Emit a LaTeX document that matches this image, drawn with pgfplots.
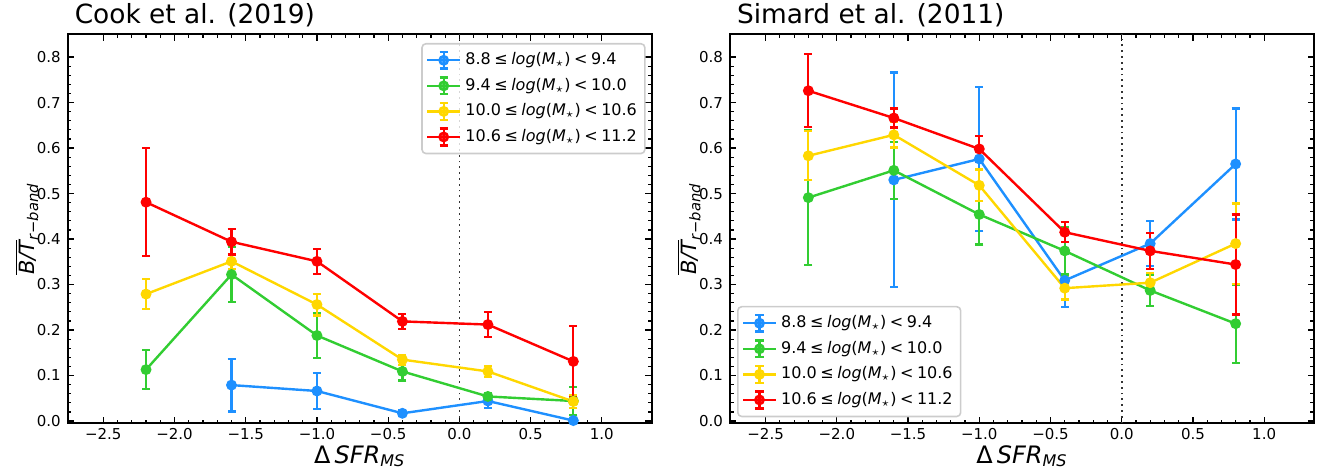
\documentclass[border=0pt]{standalone}
\usepackage{fontspec}
\setmainfont{DejaVu Sans}
\usepackage{pgfplots}
\usepackage{pgfplotstable}
\pgfplotsset{compat=1.18}
\definecolor{cblue}{HTML}{1E90FF}
\definecolor{cgreen}{HTML}{32CD32}
\definecolor{cyellow}{HTML}{FFD700}
\definecolor{cred}{HTML}{FF0000}
\newcommand\rs{\hspace{0.22em}}

% Cook et al. (2019)
\pgfplotstableread{
x y e
-1.6 0.079 0.058
-1.0 0.066 0.040
-0.4 0.017 0.006
0.2 0.044 0.015
0.8 0.001 0.004
}\cookblue
\pgfplotstableread{
x y e
-2.2 0.113 0.043
-1.6 0.322 0.060
-1.0 0.188 0.050
-0.4 0.109 0.020
0.2 0.054 0.007
0.8 0.044 0.030
}\cookgreen
\pgfplotstableread{
x y e
-2.2 0.279 0.033
-1.6 0.351 0.016
-1.0 0.256 0.024
-0.4 0.135 0.011
0.2 0.109 0.012
0.8 0.043 0.015
}\cookyellow
\pgfplotstableread{
x y e
-2.2 0.481 0.119
-1.6 0.394 0.028
-1.0 0.351 0.027
-0.4 0.219 0.017
0.2 0.212 0.028
0.8 0.131 0.078
}\cookred

% Simard et al. (2011)
\pgfplotstableread{
x y e
-1.6 0.530 0.236
-1.0 0.576 0.158
-0.4 0.309 0.058
0.2 0.390 0.050
0.8 0.565 0.122
}\simblue
\pgfplotstableread{
x y e
-2.2 0.491 0.148
-1.6 0.551 0.063
-1.0 0.454 0.066
-0.4 0.374 0.052
0.2 0.287 0.035
0.8 0.214 0.086
}\simgreen
\pgfplotstableread{
x y e
-2.2 0.583 0.054
-1.6 0.629 0.028
-1.0 0.518 0.035
-0.4 0.292 0.025
0.2 0.304 0.022
0.8 0.390 0.088
}\simyellow
\pgfplotstableread{
x y e
-2.2 0.726 0.080
-1.6 0.666 0.021
-1.0 0.598 0.028
-0.4 0.415 0.022
0.2 0.374 0.040
0.8 0.344 0.110
}\simred

\pgfplotsset{
  legend image code/.code={
    \draw[#1, mark=none] (0pt,0pt) -- (16.5pt,0pt);
    \draw[#1, mark=none] (8.25pt,-4.2pt) -- (8.25pt,4.2pt);
    \draw[#1, mark=none] (6.2pt,-4.2pt) -- (10.3pt,-4.2pt) (6.2pt,4.2pt) -- (10.3pt,4.2pt);
    \draw[#1] plot coordinates {(8.25pt,0pt)};
  },
  myax/.style={
    scale only axis, width=292pt, height=194.5pt,
    xmin=-2.75, xmax=1.35, ymin=-0.005, ymax=0.85,
    xtick={-2.5,-2,-1.5,-1,-0.5,0,0.5,1},
    xticklabels={−2.5,−2.0,−1.5,−1.0,−0.5,0.0,0.5,1.0},
    ytick={0,0.1,0.2,0.3,0.4,0.5,0.6,0.7,0.8},
    yticklabels={0.0,0.1,0.2,0.3,0.4,0.5,0.6,0.7,0.8},
    minor x tick num=4, minor y tick num=4,
    tick align=inside,
    major tick length=3.2pt, minor tick length=1.8pt,
    every tick/.style={black, line width=0.6pt},
    axis line style={line width=1pt},
    tick label style={font=\fontsize{7.5}{9}\selectfont},
    xticklabel style={yshift=1pt},
    title style={at={(0,1)}, anchor=base west, yshift=-0.8pt, font=\fontsize{13.2}{15}\selectfont},
    xlabel={Δ\,\textit{SFR}\textsubscript{\textit{MS}}},
    ylabel={$\overline{\hbox{\itshape B/T}}$\textsubscript{\textit{r}−\textit{band}}},
    xlabel style={font=\fontsize{12}{14}\selectfont, at={(axis description cs:0.5,0)}, anchor=base, yshift=-20pt},
    ylabel style={font=\fontsize{10.5}{12}\selectfont, at={(axis description cs:-0.057,0.5)}, anchor=base},
    legend cell align=left,
    legend style={draw=black!20, line width=0.8pt, rounded corners=2pt,
      fill=white, fill opacity=0.8, text opacity=1,
      font=\fontsize{8}{9.5}\selectfont, row sep=1.2pt,
      inner xsep=2pt, inner ysep=2.5pt},
  },
  ser/.style={color=#1, mark=*, line width=1.2pt, mark size=2.1pt,
    mark options={solid, fill=#1, draw=#1},
    error bars/.cd, y dir=both, y explicit,
    error bar style={line width=1.1pt},
    error mark options={rotate=90, mark size=2pt, line width=1.1pt, draw=#1}},
}

\begin{document}
\begin{tikzpicture}[x=1pt,y=1pt]
\path[use as bounding box] (0,0) rectangle (665,236);

\begin{axis}[myax, at={(33.85pt,24.35pt)}, anchor=south west,
  title={Cook et al. (2019)},
  legend style={at={(1,1)}, anchor=north east, xshift=-3pt, yshift=-4.3pt}]
\addplot[black!80, dotted, line width=0.9pt, forget plot] coordinates {(0,-0.005) (0,0.85)};
\addplot[ser=cblue] table[x=x, y=y, y error=e] {\cookblue};
\addlegendentry{8.8\rs≤\rs\textit{log}(\textit{M}$_\star$)\rs<\rs9.4}
\addplot[ser=cgreen] table[x=x, y=y, y error=e] {\cookgreen};
\addlegendentry{9.4\rs≤\rs\textit{log}(\textit{M}$_\star$)\rs<\rs10.0}
\addplot[ser=cyellow] table[x=x, y=y, y error=e] {\cookyellow};
\addlegendentry{10.0\rs≤\rs\textit{log}(\textit{M}$_\star$)\rs<\rs10.6}
\addplot[ser=cred] table[x=x, y=y, y error=e] {\cookred};
\addlegendentry{10.6\rs≤\rs\textit{log}(\textit{M}$_\star$)\rs<\rs11.2}
\end{axis}

\begin{axis}[myax, at={(365pt,24.35pt)}, anchor=south west,
  title={Simard et al. (2011)},
  legend style={at={(0,0)}, anchor=south west, xshift=3.5pt, yshift=3pt}]
\addplot[black!80, dotted, line width=0.9pt, forget plot] coordinates {(0,-0.005) (0,0.85)};
\addplot[ser=cblue] table[x=x, y=y, y error=e] {\simblue};
\addlegendentry{8.8\rs≤\rs\textit{log}(\textit{M}$_\star$)\rs<\rs9.4}
\addplot[ser=cgreen] table[x=x, y=y, y error=e] {\simgreen};
\addlegendentry{9.4\rs≤\rs\textit{log}(\textit{M}$_\star$)\rs<\rs10.0}
\addplot[ser=cyellow] table[x=x, y=y, y error=e] {\simyellow};
\addlegendentry{10.0\rs≤\rs\textit{log}(\textit{M}$_\star$)\rs<\rs10.6}
\addplot[ser=cred] table[x=x, y=y, y error=e] {\simred};
\addlegendentry{10.6\rs≤\rs\textit{log}(\textit{M}$_\star$)\rs<\rs11.2}
\end{axis}
\end{tikzpicture}
\end{document}
